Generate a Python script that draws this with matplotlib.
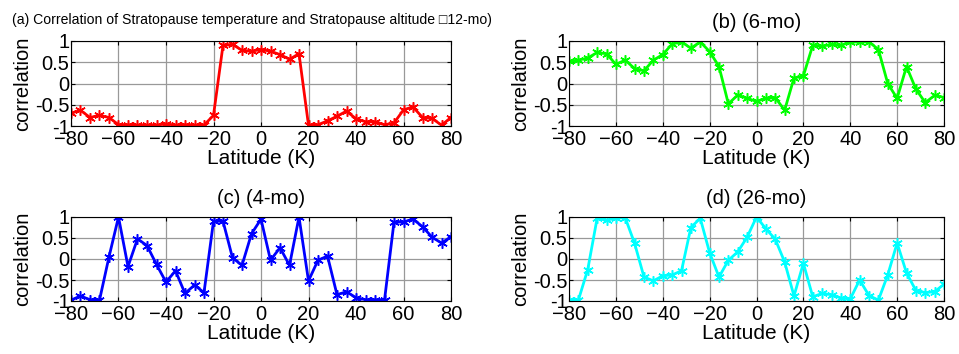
import matplotlib.pyplot as plt

plt.rcParams['font.family'] = ['Liberation Sans', 'DejaVu Sans']

lat = list(range(-80, 81, 4))

corr_12mo = [-0.70, -0.63, -0.80, -0.75, -0.80, -0.97, -0.97, -0.98, -0.98, -0.98,
             -0.95, -0.98, -0.97, -0.98, -0.98, -0.75, 0.90, 0.92, 0.78, 0.76,
             0.80, 0.76, 0.68, 0.57, 0.70, -0.98, -0.97, -0.88, -0.77, -0.65,
             -0.83, -0.90, -0.90, -0.97, -0.93, -0.62, -0.55, -0.80, -0.82, -0.98,
             -0.80]
corr_6mo = [0.52, 0.55, 0.60, 0.73, 0.70, 0.45, 0.55, 0.35, 0.30, 0.55,
            0.68, 0.93, 0.98, 0.83, 0.98, 0.75, 0.40, -0.48, -0.27, -0.35,
            -0.42, -0.35, -0.33, -0.63, 0.13, 0.18, 0.90, 0.88, 0.92, 0.90,
            0.97, 0.98, 0.98, 0.80, 0.00, -0.35, 0.40, -0.13, -0.45, -0.28,
            -0.33]
corr_4mo = [-0.98, -0.88, -0.97, -0.98, 0.05, 1.00, -0.18, 0.48, 0.32, -0.13,
            -0.55, -0.28, -0.82, -0.62, -0.80, 0.90, 0.90, 0.03, -0.15, 0.60,
            0.95, -0.03, 0.27, -0.15, 1.00, -0.52, -0.03, 0.07, -0.85, -0.78,
            -0.92, -0.97, -0.97, -0.98, 0.88, 0.88, 0.95, 0.77, 0.52, 0.38,
            0.53]
corr_26mo = [-0.98, -0.98, -0.25, 0.97, 0.92, 0.98, 0.98, 0.37, -0.43, -0.52,
             -0.40, -0.38, -0.28, 0.75, 0.97, 0.15, -0.43, -0.03, 0.17, 0.52,
             1.00, 0.72, 0.47, -0.07, -0.88, -0.10, -0.90, -0.82, -0.85, -0.93,
             -0.95, -0.50, -0.87, -0.98, -0.38, 0.38, -0.33, -0.75, -0.80, -0.78,
             -0.60]

titles = ['(a) Correlation of Stratopause temperature and Stratopause altitude \u25a112-mo)',
          '(b) (6-mo)', '(c) (4-mo)', '(d) (26-mo)']
series = [corr_12mo, corr_6mo, corr_4mo, corr_26mo]
colors = ['#ff0000', '#00ff00', '#0000ff', '#00ffff']

W, H = 959, 354
# axes boxes in pixels: left, top, right, bottom
boxes = [(71, 41, 451, 126), (569, 41, 944, 126),
         (71, 217, 451, 301), (569, 217, 944, 301)]

fig = plt.figure(figsize=(W / 100, H / 100), dpi=100)

for i in range(4):
    x0, y0, x1, y1 = boxes[i]
    ax = fig.add_axes([x0 / W, 1 - y1 / H, (x1 - x0) / W, (y1 - y0) / H])
    ax.plot(lat, series[i], color=colors[i], linewidth=2,
            marker=(6, 2, 0), markersize=7.5, markeredgewidth=1.1)
    ax.set_xlim(-80, 80)
    ax.set_ylim(-1, 1)
    ax.set_xticks(range(-80, 81, 20))
    ax.set_yticks([-1, -0.5, 0, 0.5, 1])
    ax.set_yticklabels(['-1', '-0.5', '0', '0.5', '1'])
    ax.grid(True, color='#999999', linewidth=0.9)
    ax.tick_params(direction='in', length=3, labelsize=14.5,
                   top=True, right=True)
    ax.tick_params(axis='x', pad=3)
    ax.tick_params(axis='y', pad=1)
    ax.set_xlabel('Latitude (K)', fontsize=15, labelpad=0)
    ax.set_ylabel('correlation', fontsize=14.5, labelpad=2)
    for s in ax.spines.values():
        s.set_linewidth(0.8)
    if i == 0:
        ax.set_title(titles[i], fontsize=10.1, loc='left', x=-0.155, pad=12)
    else:
        ax.set_title(titles[i], fontsize=14.5, pad=9)

fig.savefig('out.png', dpi=100)
